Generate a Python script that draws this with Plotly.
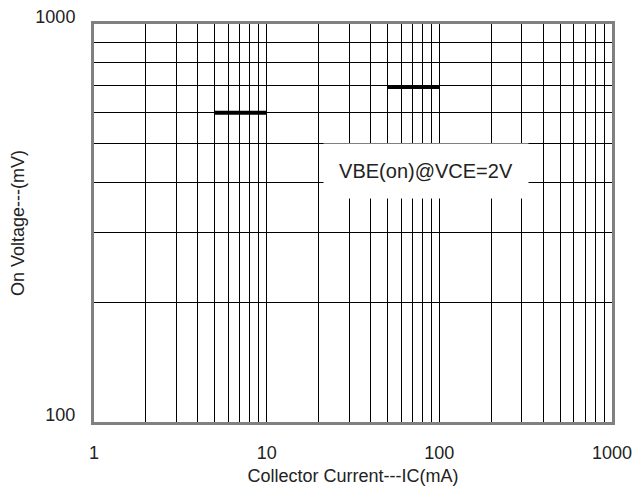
import plotly.graph_objects as go

# Data
seg1_x = [5, 10]
seg1_y = [598, 598]
seg2_x = [50, 100]
seg2_y = [695, 695]

x_ticks = [1, 10, 100, 1000]
x_ticktext = ["1", "10", "100", "1000"]
y_ticks = [100, 1000]
y_ticktext = ["100", "1000"]
x_minor = [m * d for d in (1, 10, 100) for m in range(2, 10)] + [10, 100]
y_minor = [200, 300, 400, 500, 600, 700, 800, 900]

FONT = "Liberation Sans, Arial, sans-serif"

fig = go.Figure()
for xs, ys in ((seg1_x, seg1_y), (seg2_x, seg2_y)):
    fig.add_trace(go.Scatter(x=xs, y=ys, mode="lines",
                             line=dict(color="black", width=4),
                             showlegend=False, hoverinfo="skip"))

fig.add_annotation(x=1.924, y=2.631, xref="x", yref="y",
                   text="VBE(on)@VCE=2V", showarrow=False,
                   font=dict(family=FONT, size=20, color="#222"),
                   bgcolor="white", width=192, height=42, borderpad=6)

# y axis title as rotated text
fig.add_annotation(x=0, y=0.5, xref="paper", yref="paper",
                   xanchor="center", yanchor="middle", xshift=-76,
                   text="On Voltage---(mV)", textangle=-90, showarrow=False,
                   font=dict(family=FONT, size=18, color="#222"))

fig.update_xaxes(type="log", range=[0, 3], automargin=False,
                 tickvals=x_ticks, ticktext=x_ticktext,
                 showgrid=False, zeroline=False,
                 showline=True, mirror=True, linecolor="#808080", linewidth=3,
                 ticks="", tickfont=dict(family=FONT, size=18, color="#222"),
                 ticklabelstandoff=12,
                 minor=dict(tickvals=x_minor, showgrid=True, gridcolor="black", gridwidth=1, ticks=""),
                 title=dict(text="Collector Current---IC(mA)", font=dict(family=FONT, size=18, color="#222"), standoff=8))
fig.update_yaxes(type="log", range=[2, 3], automargin=False,
                 tickvals=y_ticks, ticktext=y_ticktext,
                 showgrid=False, zeroline=False,
                 showline=True, mirror=True, linecolor="#808080", linewidth=3,
                 ticks="", tickfont=dict(family=FONT, size=18, color="#222"),
                 ticklabelshift=-7, ticklabelstandoff=12,
                 minor=dict(tickvals=y_minor, showgrid=True, gridcolor="black", gridwidth=1, ticks=""))

fig.update_layout(width=641, height=495,
                  margin=dict(l=94, r=29, t=24, b=73),
                  plot_bgcolor="white", paper_bgcolor="white",
                  showlegend=False)

fig.write_html("out.html")
